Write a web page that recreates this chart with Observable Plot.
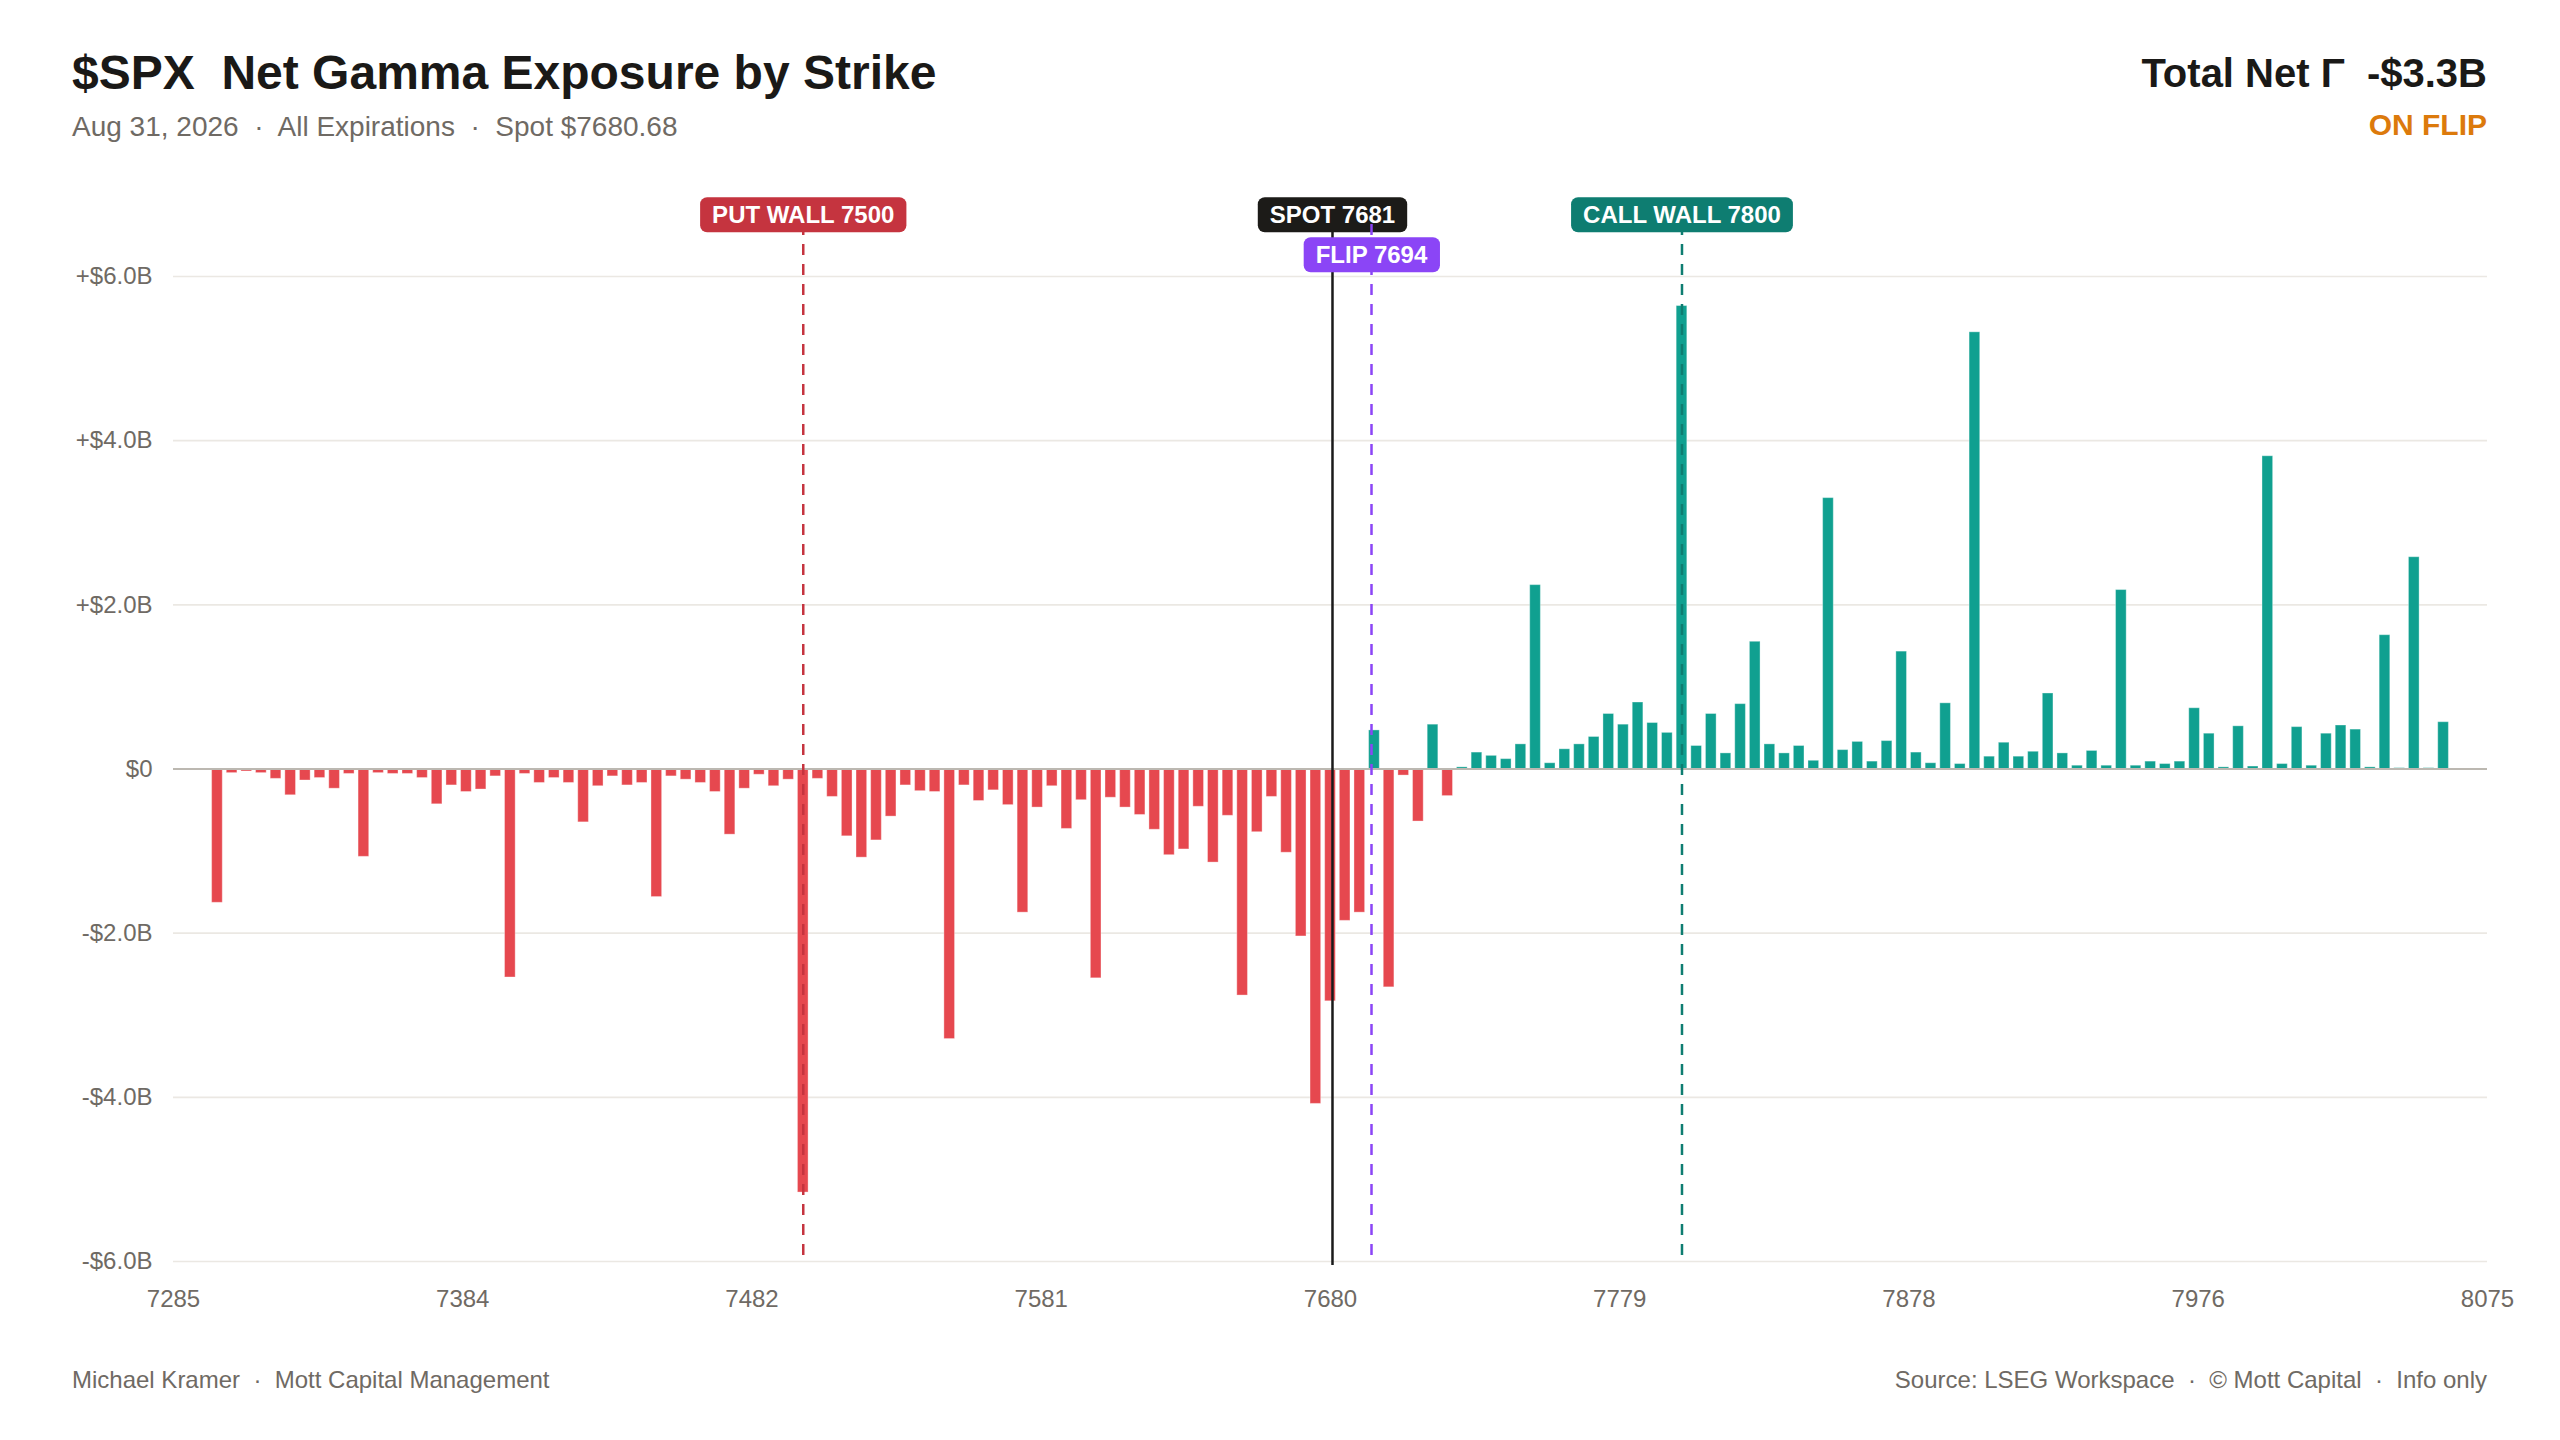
<!DOCTYPE html>
<html>
<head>
<meta charset="utf-8">
<script src="https://cdn.jsdelivr.net/npm/d3@7"></script>
<script src="https://cdn.jsdelivr.net/npm/@observablehq/plot@0.6"></script>
<style>
html, body { margin: 0; padding: 0; background: #ffffff; overflow: hidden; }
#page { position: relative; width: 2560px; height: 1440px; font-family: "Liberation Sans", Arial, Helvetica, sans-serif; }
.t { position: absolute; white-space: pre; line-height: 1; margin: 0; }
#title { left: 72px; top: 49px; font-size: 48px; font-weight: 700; color: #1a1917; }
#subtitle { left: 72px; top: 113px; font-size: 28px; color: #6f6a64; }
#total { right: 73px; top: 53px; font-size: 40px; font-weight: 700; color: #1a1917; }
#regime { right: 73px; top: 110px; font-size: 30px; font-weight: 700; color: #dc7a0c; }
#footL { left: 72px; top: 1368px; font-size: 24px; color: #6f6a64; }
#footR { right: 73px; top: 1368px; font-size: 24px; color: #6f6a64; }
#chart { position: absolute; left: 0; top: 180px; }
</style>
</head>
<body>
<div id="page">
  <div class="t" id="title"></div>
  <div class="t" id="subtitle"></div>
  <div class="t" id="total"></div>
  <div class="t" id="regime"></div>
  <div id="chart"></div>
  <div class="t" id="footL"></div>
  <div class="t" id="footR"></div>
</div>
<script>
// ---- text ----
const titleText = "$SPX  Net Gamma Exposure by Strike";
const subtitleText = "Aug 31, 2026  \u00b7  All Expirations  \u00b7  Spot $7680.68";
const totalText = "Total Net \u0393  -$3.3B";
const regimeText = "ON FLIP";
const footLeftText = "Michael Kramer  \u00b7  Mott Capital Management";
const footRightText = "Source: LSEG Workspace  \u00b7  \u00a9 Mott Capital  \u00b7  Info only";

// ---- data ----
const strikeStep = 5;
const strikes = [
  7300,7305,7310,7315,7320,7325,7330,7335,7340,7345,7350,7355,7360,7365,7370,7375,7380,7385,7390,7395,
  7400,7405,7410,7415,7420,7425,7430,7435,7440,7445,7450,7455,7460,7465,7470,7475,7480,7485,7490,7495,
  7500,7505,7510,7515,7520,7525,7530,7535,7540,7545,7550,7555,7560,7565,7570,7575,7580,7585,7590,7595,
  7600,7605,7610,7615,7620,7625,7630,7635,7640,7645,7650,7655,7660,7665,7670,7675,7680,7685,7690,7695,
  7700,7705,7710,7715,7720,7725,7730,7735,7740,7745,7750,7755,7760,7765,7770,7775,7780,7785,7790,7795,
  7800,7805,7810,7815,7820,7825,7830,7835,7840,7845,7850,7855,7860,7865,7870,7875,7880,7885,7890,7895,
  7900,7905,7910,7915,7920,7925,7930,7935,7940,7945,7950,7955,7960,7965,7970,7975,7980,7985,7990,7995,
  8000,8005,8010,8015,8020,8025,8030,8035,8040,8045,8050,8055,8060
];
// net gamma exposure, $ billions
const netGex = [
  -1.63,-0.05,-0.03,-0.05,-0.12,-0.32,-0.14,-0.11,-0.24,-0.06,-1.07,-0.05,-0.06,-0.06,-0.11,-0.43,-0.20,-0.28,-0.25,-0.09,
  -2.54,-0.06,-0.17,-0.11,-0.17,-0.65,-0.21,-0.09,-0.20,-0.17,-1.56,-0.09,-0.13,-0.17,-0.28,-0.80,-0.24,-0.07,-0.21,-0.13,
  -5.16,-0.12,-0.34,-0.82,-1.08,-0.87,-0.58,-0.20,-0.27,-0.28,-3.29,-0.20,-0.39,-0.26,-0.44,-1.75,-0.47,-0.21,-0.73,-0.38,
  -2.55,-0.35,-0.47,-0.56,-0.74,-1.05,-0.98,-0.46,-1.14,-0.57,-2.76,-0.77,-0.34,-1.02,-2.04,-4.08,-2.83,-1.85,-1.75,0.47,
  -2.66,-0.08,-0.64,0.54,-0.33,0.02,0.20,0.16,0.12,0.30,2.24,0.07,0.24,0.30,0.39,0.67,0.54,0.81,0.56,0.44,
  5.64,0.28,0.67,0.19,0.79,1.55,0.30,0.19,0.28,0.10,3.30,0.23,0.33,0.09,0.34,1.43,0.20,0.07,0.80,0.06,
  5.32,0.15,0.32,0.15,0.21,0.92,0.19,0.04,0.22,0.04,2.18,0.04,0.09,0.06,0.09,0.74,0.43,0.02,0.52,0.03,
  3.81,0.06,0.51,0.04,0.43,0.53,0.48,0.02,1.63,0.01,2.58,0.01,0.57
];

// key levels
const levelNames  = ["PUT WALL", "SPOT", "CALL WALL", "FLIP"];
const levelValues = [7500, 7680.68, 7800, 7694];
const levelColors = ["#c5343f", "#1c1b18", "#0e7d71", "#8b45f6"];

// axes
const xDomain = [7285, 8075];
const xTicks = [7285, 7383.75, 7482.5, 7581.25, 7680, 7778.75, 7877.5, 7976.25, 8075];
const xTickLabels = ["7285", "7384", "7482", "7581", "7680", "7779", "7878", "7976", "8075"];
const yDomain = [-6, 6];
const yTicks = [-6, -4, -2, 0, 2, 4, 6];
const yTickLabels = ["-$6.0B", "-$4.0B", "-$2.0B", "$0", "+$2.0B", "+$4.0B", "+$6.0B"];

// ---- styles ----
const RED = "#e6484f";
const TEAL = "#10a090";
const GRID = "#ebe8e3";
const ZERO = "#bcb8b1";
const INK = "#6f6a64";

document.getElementById("title").textContent = titleText;
document.getElementById("subtitle").textContent = subtitleText;
document.getElementById("total").textContent = totalText;
document.getElementById("regime").textContent = regimeText;
document.getElementById("footL").textContent = footLeftText;
document.getElementById("footR").textContent = footRightText;

const rows = strikes.map((s, i) => ({strike: s, gex: netGex[i]}));
const levels = levelNames.map((n, i) => ({
  name: n, value: levelValues[i], color: levelColors[i],
  label: n + " " + Math.round(levelValues[i])
}));
const put = [levels[0]], spot = [levels[1]], call = [levels[2]], flip = [levels[3]];

const FONT = "'Liberation Sans', Arial, Helvetica, sans-serif";

const chart = Plot.plot({
  width: 2560,
  height: 1141,
  marginTop: 96,
  marginBottom: 60,
  marginLeft: 173,
  marginRight: 73,
  style: {fontFamily: FONT, fontSize: "24px", color: INK, background: "#ffffff", overflow: "visible"},
  x: {domain: xDomain, ticks: xTicks, tickFormat: d => xTickLabels[xTicks.indexOf(d)], tickSize: 0, tickPadding: 28, label: null},
  y: {domain: yDomain, ticks: yTicks, tickFormat: d => yTickLabels[yTicks.indexOf(d)], tickSize: 0, tickPadding: 21, label: null},
  marks: [
    Plot.ruleY(yTicks.filter(d => d !== 0), {stroke: GRID, strokeWidth: 1.6}),
    Plot.rect(rows, {
      x1: d => d.strike - strikeStep / 2,
      x2: d => d.strike + strikeStep / 2,
      y1: 0,
      y2: "gex",
      fill: d => d.gex >= 0 ? TEAL : RED,
      insetLeft: 2, insetRight: 2,
      stroke: "#ffffff", strokeOpacity: 0.35, strokeWidth: 1
    }),
    Plot.ruleY([0], {stroke: ZERO, strokeWidth: 2}),
    Plot.ruleX(put, {x: "value", stroke: "color", strokeWidth: 2.5, strokeDasharray: "11,9", insetTop: -52}),
    Plot.ruleX(call, {x: "value", stroke: "color", strokeWidth: 2.5, strokeDasharray: "11,9", insetTop: -52}),
    Plot.ruleX(spot, {x: "value", stroke: "#1a1a1a", strokeWidth: 2.5, insetTop: -52, insetBottom: -4}),
    Plot.text([...put, ...spot, ...call], {
      x: "value", text: "label", frameAnchor: "top", dy: -61, lineAnchor: "middle",
      fill: "#ffffff", fontWeight: 700, fontSize: 24
    }),
    Plot.ruleX(flip, {x: "value", stroke: "color", strokeWidth: 2.5, strokeDasharray: "11,9", insetTop: -52}),
    Plot.text(flip, {
      x: "value", text: "label", frameAnchor: "top", dy: -21, lineAnchor: "middle",
      fill: "#ffffff", fontWeight: 700, fontSize: 24
    })
  ]
});

document.getElementById("chart").appendChild(chart);

// rounded badge behind each level label
const NS = "http://www.w3.org/2000/svg";
chart.querySelectorAll("text").forEach(t => {
  const lv = levels.find(l => l.label === t.textContent);
  if (!lv) return;
  const b = t.getBBox();
  const r = document.createElementNS(NS, "rect");
  const cy = b.y + b.height / 2;
  r.setAttribute("x", b.x - 12);
  r.setAttribute("y", cy - 17.5);
  r.setAttribute("width", b.width + 24);
  r.setAttribute("height", 35);
  r.setAttribute("rx", 7);
  r.setAttribute("fill", lv.color);
  const tr = t.getAttribute("transform");
  if (tr) r.setAttribute("transform", tr);
  t.parentNode.insertBefore(r, t);
});
</script>
</body>
</html>
